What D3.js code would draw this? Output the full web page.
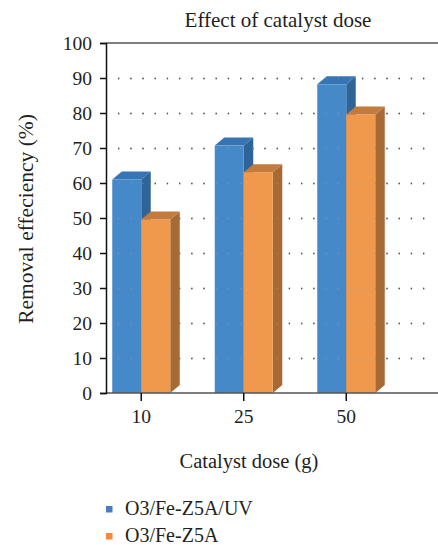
<!DOCTYPE html>
<html>
<head>
<meta charset="utf-8">
<script src="https://cdn.jsdelivr.net/npm/d3@7/dist/d3.min.js"></script>
<style>
  html, body { margin: 0; padding: 0; background: #fff; }
  svg text { font-family: "Liberation Serif", "DejaVu Serif", serif; fill: #231f20; }
</style>
</head>
<body>
<svg id="chart" width="438" height="545"></svg>
<script>
// data
var categories = ["10", "25", "50"];
var seriesNames = ["O3/Fe-Z5A/UV", "O3/Fe-Z5A"];
var uvValues = [61, 70.7, 88.2];
var noUvValues = [49.6, 63.1, 79.6];
var yTicks = [0, 10, 20, 30, 40, 50, 60, 70, 80, 90, 100];

var colors = {
  "O3/Fe-Z5A/UV": { front: "#4689c8", top: "#3674b3", side: "#2e6497", key: "#4a7cc4" },
  "O3/Fe-Z5A": { front: "#f0994d", top: "#c27a3d", side: "#a86a35", key: "#f5893a" }
};

var svg = d3.select("#chart");

var y = d3.scaleLinear().domain([0, 100]).range([393, 43]);
var x0 = d3.scaleBand().domain(categories).range([90, 397.5]);
var x1 = d3.scaleBand().domain(seriesNames).range([0, 58]);
var depthX = 9.5, depthY = 8;

var rows = [];
categories.forEach(function (c, i) {
  rows.push({ cat: c, name: seriesNames[0], value: uvValues[i] });
  rows.push({ cat: c, name: seriesNames[1], value: noUvValues[i] });
});

var gridTicks = yTicks.filter(function (t) { return t > 0 && t < 100; });

// dotted grid behind the bars
svg.append("g").selectAll("line")
  .data(gridTicks)
  .enter().append("line")
  .attr("x1", 118).attr("x2", 434)
  .attr("y1", function (d) { return y(d) + 0.5; })
  .attr("y2", function (d) { return y(d) + 0.5; })
  .attr("stroke", "#111")
  .attr("stroke-width", 1.3)
  .attr("stroke-dasharray", "1.3 10.9");

// bars with a faked depth
var bars = svg.append("g").selectAll("g")
  .data(rows)
  .enter().append("g");

function bx(d) { return x0(d.cat) + (x0.bandwidth() - 58) / 2 + x1(d.name); }

bars.append("path")
  .attr("fill", function (d) { return colors[d.name].side; })
  .attr("d", function (d) {
    var r = bx(d) + x1.bandwidth(), t = y(d.value), b = y(0);
    return "M" + r + "," + t + "L" + (r + depthX) + "," + (t - depthY) +
      "L" + (r + depthX) + "," + (b - depthY) + "L" + r + "," + b + "Z";
  });

bars.append("path")
  .attr("fill", function (d) { return colors[d.name].top; })
  .attr("d", function (d) {
    var l = bx(d), r = l + x1.bandwidth(), t = y(d.value);
    return "M" + l + "," + t + "L" + (l + depthX) + "," + (t - depthY) +
      "L" + (r + depthX) + "," + (t - depthY) + "L" + r + "," + t + "Z";
  });

bars.append("rect")
  .attr("fill", function (d) { return colors[d.name].front; })
  .attr("x", bx)
  .attr("y", function (d) { return y(d.value); })
  .attr("width", x1.bandwidth())
  .attr("height", function (d) { return y(0) - y(d.value); });

// faint grid dots showing through the bars
svg.append("g").selectAll("line")
  .data(gridTicks)
  .enter().append("line")
  .attr("x1", 118).attr("x2", 434)
  .attr("y1", function (d) { return y(d) + 0.5; })
  .attr("y2", function (d) { return y(d) + 0.5; })
  .attr("stroke", "#9aa7b3")
  .attr("stroke-opacity", 0.45)
  .attr("stroke-width", 1.3)
  .attr("stroke-dasharray", "1.3 10.9");

// top border at 100 and bottom axis line
[100, 0].forEach(function (v) {
  svg.append("line")
    .attr("x1", 106).attr("x2", 438)
    .attr("y1", y(v)).attr("y2", y(v))
    .attr("stroke", "#555").attr("stroke-width", 1.6);
});

// y axis
var yAxis = svg.append("g")
  .attr("transform", "translate(106,0)")
  .call(d3.axisLeft(y).tickValues(yTicks).tickSize(6).tickPadding(8));
yAxis.select(".domain").attr("stroke", "#111").attr("stroke-width", 1.5);
yAxis.selectAll(".tick line").attr("stroke", "#111").attr("stroke-width", 1.5);
yAxis.selectAll("text").style("font-size", "19.5px").attr("font-family", null);

// x axis, ticks at the centre of each pair
var xAxis = svg.append("g")
  .attr("transform", "translate(0," + y(0) + ")")
  .call(d3.axisBottom(x0).tickSize(8).tickPadding(8).tickSizeOuter(0));
xAxis.select(".domain").remove();
xAxis.selectAll(".tick line").attr("stroke", "#111").attr("stroke-width", 1.5);
xAxis.selectAll("text").style("font-size", "19.5px").attr("font-family", null);

// titles
svg.append("text")
  .attr("x", 278).attr("y", 27)
  .attr("text-anchor", "middle")
  .style("font-size", "21px")
  .text("Effect of catalyst dose");

svg.append("text")
  .attr("transform", "translate(33,219) rotate(-90)")
  .attr("text-anchor", "middle")
  .style("font-size", "21.5px")
  .text("Removal effeciency (%)");

svg.append("text")
  .attr("x", 249).attr("y", 468)
  .attr("text-anchor", "middle")
  .style("font-size", "20.5px")
  .text("Catalyst dose (g)");

// legend
var legend = svg.append("g").selectAll("g")
  .data(seriesNames)
  .enter().append("g")
  .attr("transform", function (d, i) { return "translate(106," + (506 + i * 27) + ")"; });
legend.append("rect")
  .attr("width", 6.5).attr("height", 6.5)
  .attr("fill", function (d) { return colors[d].key; });
legend.append("text")
  .attr("x", 19).attr("y", 8.5)
  .style("font-size", "20px")
  .text(function (d) { return d; });
</script>
</body>
</html>
